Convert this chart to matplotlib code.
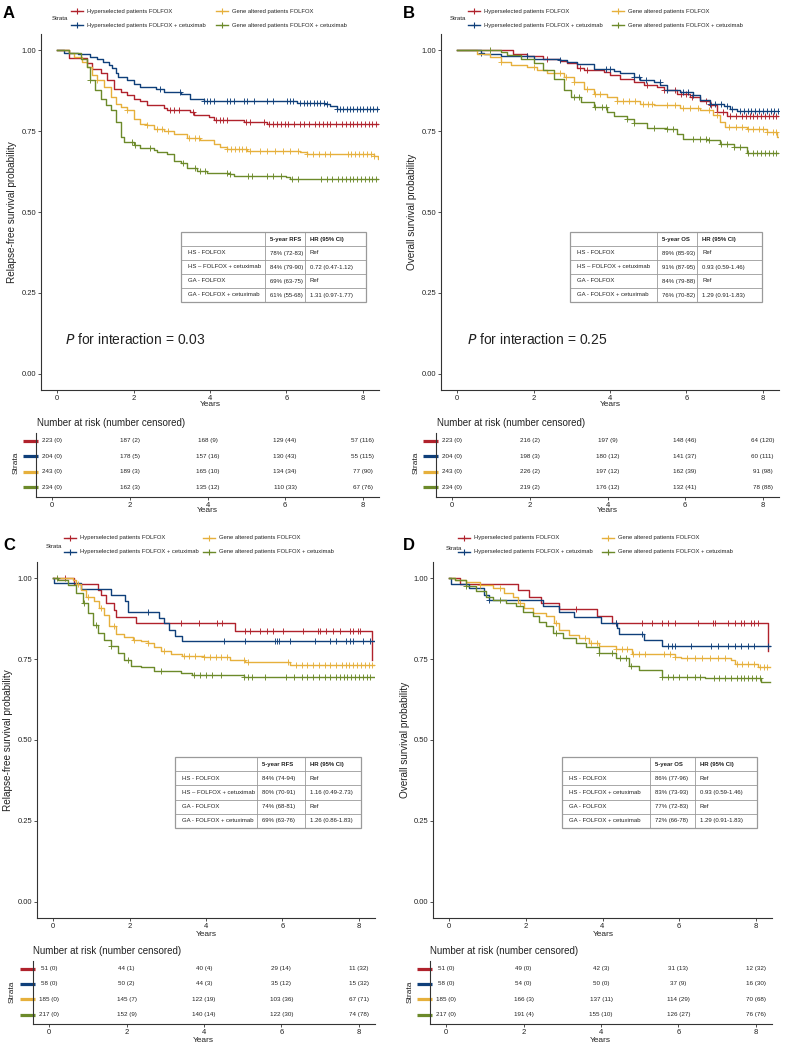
import numpy as np
import matplotlib
matplotlib.use("Agg")
import matplotlib.pyplot as plt
from matplotlib.lines import Line2D
from matplotlib.patches import Rectangle

# ---------------- DATA ----------------
strata_labels = ["Hyperselected patients FOLFOX", "Hyperselected patients FOLFOX + cetuximab",
                 "Gene altered patients FOLFOX", "Gene altered patients FOLFOX + cetuximab"]
colors = ["#B0222C", "#0F3F7A", "#E6B03C", "#6C8A2A"]
year_ticks = [0, 2, 4, 6, 8]
surv_ticks = [0.0, 0.25, 0.5, 0.75, 1.0]
surv_tick_labels = ["0.00", "0.25", "0.50", "0.75", "1.00"]

# Panel A (RFS, full population)
a_red_t = [0, 0.31, 0.79, 0.92, 1.14, 1.31, 1.48, 1.66, 1.83, 2.0, 2.18, 2.35, 2.79, 2.88, 3.49, 3.57, 3.97, 4.10, 4.30, 4.90, 5.50, 8.42]
a_red_s = [1.0, 0.977, 0.959, 0.943, 0.928, 0.907, 0.881, 0.871, 0.861, 0.850, 0.843, 0.830, 0.822, 0.814, 0.809, 0.800, 0.794, 0.785, 0.783, 0.778, 0.772, 0.772]
a_red_c = [2.95, 3.05, 3.20, 3.55, 4.15, 4.25, 4.35, 4.45, 4.95, 5.05, 5.40, 5.55, 5.65, 5.75, 5.85, 5.95, 6.05, 6.20, 6.35, 6.45, 6.60, 6.75, 6.85, 6.95, 7.05, 7.15, 7.30, 7.45, 7.55, 7.65, 7.75, 7.85, 7.95, 8.05, 8.15, 8.25, 8.35]
a_blu_t = [0, 0.18, 0.55, 0.85, 1.05, 1.20, 1.35, 1.45, 1.53, 1.60, 1.83, 2.0, 2.18, 2.60, 2.80, 3.23, 3.49, 3.84, 6.27, 7.01, 7.14, 7.32, 8.42]
a_blu_s = [1.0, 0.992, 0.988, 0.980, 0.972, 0.965, 0.955, 0.945, 0.930, 0.917, 0.907, 0.897, 0.886, 0.881, 0.871, 0.866, 0.850, 0.843, 0.837, 0.833, 0.827, 0.817, 0.817]
a_blu_c = [2.70, 3.22, 3.84, 3.92, 4.01, 4.10, 4.44, 4.53, 4.62, 4.88, 4.96, 5.14, 5.49, 5.66, 6.01, 6.10, 6.18, 6.36, 6.45, 6.53, 6.62, 6.71, 6.79, 6.88, 6.97, 7.05, 7.32, 7.40, 7.49, 7.58, 7.66, 7.75, 7.84, 7.92, 8.01, 8.10, 8.18, 8.27, 8.36]
a_yel_t = [0, 0.31, 0.44, 0.66, 0.79, 0.92, 1.05, 1.22, 1.40, 1.53, 1.66, 1.83, 2.0, 2.18, 2.35, 2.53, 2.79, 3.05, 3.40, 3.75, 4.10, 4.27, 4.44, 4.96, 6.36, 6.53, 8.30, 8.40, 8.42]
a_yel_s = [1.0, 0.990, 0.979, 0.964, 0.948, 0.923, 0.907, 0.886, 0.856, 0.835, 0.825, 0.814, 0.788, 0.773, 0.768, 0.757, 0.750, 0.742, 0.730, 0.721, 0.711, 0.700, 0.695, 0.688, 0.685, 0.678, 0.672, 0.665, 0.665]
a_yel_c = [1.05, 1.83, 2.35, 2.62, 2.75, 2.90, 3.45, 3.60, 3.70, 4.45, 4.55, 4.65, 4.75, 4.85, 4.95, 5.05, 5.30, 5.50, 5.70, 5.90, 6.10, 6.30, 6.55, 6.70, 6.85, 7.00, 7.15, 7.60, 7.70, 7.80, 7.90, 8.00, 8.10, 8.20, 8.30]
a_grn_t = [0, 0.31, 0.62, 0.79, 0.87, 1.0, 1.14, 1.27, 1.40, 1.53, 1.66, 1.75, 2.0, 2.18, 2.53, 2.62, 2.88, 3.05, 3.23, 3.40, 3.66, 3.93, 4.53, 4.62, 6.0, 6.10, 8.42]
a_grn_s = [1.0, 0.990, 0.974, 0.948, 0.907, 0.876, 0.850, 0.830, 0.814, 0.778, 0.732, 0.716, 0.706, 0.699, 0.692, 0.685, 0.678, 0.659, 0.651, 0.637, 0.628, 0.620, 0.616, 0.610, 0.608, 0.603, 0.603]
a_grn_c = [0.87, 1.95, 2.05, 2.43, 3.30, 3.62, 3.75, 3.88, 4.44, 4.53, 5.00, 5.10, 5.50, 5.65, 5.85, 6.15, 6.30, 6.90, 7.05, 7.20, 7.35, 7.45, 7.55, 7.65, 7.75, 7.85, 7.95, 8.05, 8.15, 8.25, 8.35]

# Panel B (OS, full population)
b_red_t = [0, 1.47, 1.83, 2.26, 2.70, 2.88, 3.14, 3.31, 3.84, 4.01, 4.27, 4.62, 4.88, 5.22, 5.40, 5.75, 6.10, 6.36, 6.62, 6.79, 7.05, 8.42]
b_red_s = [1.0, 0.988, 0.981, 0.974, 0.967, 0.959, 0.946, 0.938, 0.933, 0.923, 0.912, 0.902, 0.892, 0.886, 0.876, 0.866, 0.856, 0.843, 0.830, 0.809, 0.798, 0.798]
b_red_c = [1.83, 2.35, 3.22, 3.40, 4.96, 5.40, 5.70, 5.85, 6.00, 6.15, 6.50, 6.65, 6.80, 6.95, 7.15, 7.30, 7.45, 7.55, 7.65, 7.75, 7.85, 7.95, 8.05, 8.15, 8.25, 8.35]
b_blu_t = [0, 0.62, 0.70, 1.14, 2.0, 2.70, 2.88, 3.14, 3.57, 4.10, 4.27, 4.62, 4.79, 5.14, 5.31, 5.48, 5.83, 6.18, 6.36, 6.62, 6.97, 7.14, 7.32, 8.42]
b_blu_s = [1.0, 0.992, 0.988, 0.981, 0.974, 0.971, 0.964, 0.957, 0.943, 0.936, 0.928, 0.917, 0.907, 0.902, 0.892, 0.878, 0.871, 0.861, 0.845, 0.835, 0.827, 0.819, 0.811, 0.811]
b_blu_c = [0.62, 1.83, 2.70, 3.90, 4.00, 4.62, 4.75, 4.95, 5.30, 5.48, 5.90, 6.05, 6.18, 6.62, 6.75, 6.90, 7.05, 7.20, 7.40, 7.50, 7.60, 7.70, 7.80, 7.90, 8.00, 8.10, 8.20, 8.30, 8.40]
b_yel_t = [0, 0.53, 0.87, 1.14, 1.40, 1.83, 2.09, 2.35, 2.79, 3.05, 3.31, 3.57, 3.93, 4.18, 4.79, 5.14, 5.83, 6.36, 6.70, 6.88, 7.01, 7.58, 8.10, 8.36, 8.42]
b_yel_s = [1.0, 0.988, 0.979, 0.964, 0.954, 0.948, 0.938, 0.930, 0.917, 0.902, 0.881, 0.866, 0.856, 0.843, 0.835, 0.830, 0.822, 0.814, 0.800, 0.778, 0.763, 0.757, 0.747, 0.732, 0.732]
b_yel_c = [1.14, 2.00, 2.70, 2.85, 3.05, 3.40, 3.60, 3.75, 4.18, 4.35, 4.50, 4.65, 4.85, 5.00, 5.10, 5.50, 5.70, 5.90, 6.10, 6.30, 6.60, 6.80, 7.10, 7.30, 7.45, 7.60, 7.75, 7.90, 8.00, 8.10, 8.25, 8.35]
b_grn_t = [0, 1.14, 1.31, 1.66, 2.0, 2.26, 2.53, 2.79, 2.97, 3.23, 3.57, 3.93, 4.10, 4.44, 4.62, 4.96, 5.48, 5.75, 5.92, 6.53, 6.88, 7.23, 7.58, 8.42]
b_grn_s = [1.0, 0.995, 0.985, 0.974, 0.959, 0.938, 0.912, 0.876, 0.856, 0.840, 0.825, 0.809, 0.796, 0.788, 0.775, 0.760, 0.755, 0.742, 0.727, 0.721, 0.709, 0.701, 0.682, 0.682]
b_grn_c = [0.87, 3.05, 3.20, 3.60, 3.80, 3.90, 4.44, 4.62, 5.14, 5.50, 5.65, 6.18, 6.35, 6.50, 6.60, 6.90, 7.05, 7.25, 7.40, 7.60, 7.75, 7.85, 7.95, 8.05, 8.15, 8.25, 8.35]

# Panel C (RFS, subgroup)
c_red_t = [0, 0.56, 1.17, 1.26, 1.39, 1.60, 1.65, 2.17, 4.77, 8.34]
c_red_s = [1.0, 0.983, 0.964, 0.949, 0.923, 0.902, 0.880, 0.861, 0.838, 0.746]
c_red_c = [0.30, 3.34, 3.81, 4.29, 4.42, 5.03, 5.14, 5.42, 5.59, 5.76, 6.02, 6.54, 6.93, 6.98, 7.15, 7.32, 7.50, 7.76, 7.84, 7.97, 8.02]
c_blu_t = [0, 0.03, 0.74, 1.52, 1.88, 1.95, 2.77, 2.90, 3.03, 3.20, 3.38, 8.41]
c_blu_s = [1.0, 0.985, 0.966, 0.949, 0.931, 0.895, 0.877, 0.861, 0.841, 0.820, 0.805, 0.805]
c_blu_c = [2.47, 4.48, 5.03, 5.80, 5.85, 5.90, 6.20, 6.85, 7.24, 7.41, 7.67, 7.76, 7.84, 8.10, 8.28]
c_yel_t = [0, 0.52, 0.61, 0.74, 0.87, 1.08, 1.21, 1.34, 1.47, 1.65, 1.86, 2.08, 2.30, 2.47, 2.64, 2.82, 3.08, 3.38, 3.94, 4.64, 5.03, 6.20, 8.41]
c_yel_s = [1.0, 0.995, 0.983, 0.964, 0.943, 0.928, 0.907, 0.887, 0.851, 0.828, 0.818, 0.810, 0.805, 0.800, 0.787, 0.774, 0.766, 0.760, 0.755, 0.748, 0.741, 0.733, 0.733]
c_yel_c = [0.65, 0.91, 1.26, 1.60, 2.12, 2.47, 2.90, 3.42, 3.55, 3.70, 3.96, 4.10, 4.25, 4.40, 4.55, 5.00, 5.10, 6.15, 6.35, 6.50, 6.65, 6.80, 6.95, 7.10, 7.25, 7.40, 7.55, 7.65, 7.75, 7.85, 7.95, 8.05, 8.15, 8.25, 8.35]
c_grn_t = [0, 0.13, 0.39, 0.61, 0.78, 0.91, 1.04, 1.17, 1.34, 1.52, 1.69, 1.86, 2.04, 2.30, 2.64, 3.34, 3.64, 4.99, 8.41]
c_grn_s = [1.0, 0.993, 0.979, 0.954, 0.923, 0.892, 0.856, 0.830, 0.810, 0.789, 0.768, 0.748, 0.729, 0.725, 0.712, 0.707, 0.702, 0.694, 0.694]
c_grn_c = [0.09, 0.82, 1.13, 1.52, 1.95, 2.82, 3.68, 3.85, 4.00, 4.15, 4.38, 5.00, 5.10, 5.20, 5.55, 6.10, 6.30, 6.50, 6.65, 6.80, 6.95, 7.10, 7.25, 7.40, 7.50, 7.60, 7.70, 7.80, 7.90, 8.00, 8.10, 8.20, 8.30]

# Panel D (OS, subgroup)
d_red_t = [0, 0.28, 1.79, 2.09, 2.39, 2.87, 3.86, 4.25, 8.31]
d_red_s = [1.0, 0.981, 0.962, 0.943, 0.923, 0.904, 0.882, 0.861, 0.774]
d_red_c = [3.30, 4.34, 5.03, 5.29, 5.54, 5.72, 5.89, 6.49, 6.88, 6.93, 7.27, 7.45, 7.62, 7.70, 7.88, 7.96, 8.05]
d_blu_t = [0, 0.05, 0.53, 0.92, 1.05, 2.44, 2.87, 3.26, 3.96, 4.38, 4.43, 5.07, 5.55, 8.37]
d_blu_s = [1.0, 0.983, 0.969, 0.949, 0.933, 0.913, 0.897, 0.880, 0.861, 0.846, 0.828, 0.810, 0.791, 0.791]
d_blu_c = [1.05, 4.34, 5.03, 5.72, 5.80, 5.89, 6.32, 6.84, 7.01, 7.27, 7.45, 7.62, 7.79, 7.96, 8.31]
d_yel_t = [0, 0.15, 0.45, 0.81, 1.14, 1.44, 1.66, 1.79, 1.96, 2.18, 2.52, 2.74, 2.87, 3.13, 3.39, 3.65, 3.91, 4.34, 4.77, 5.89, 6.06, 7.36, 7.45, 8.05, 8.37]
d_yel_s = [1.0, 0.995, 0.987, 0.979, 0.969, 0.954, 0.943, 0.923, 0.907, 0.892, 0.882, 0.861, 0.841, 0.825, 0.815, 0.801, 0.791, 0.781, 0.766, 0.758, 0.753, 0.748, 0.736, 0.727, 0.727]
d_yel_c = [0.81, 1.32, 1.84, 2.80, 3.55, 3.70, 3.85, 4.34, 4.50, 4.65, 4.80, 4.95, 5.10, 5.60, 5.75, 5.90, 6.20, 6.40, 6.60, 6.80, 7.00, 7.20, 7.50, 7.65, 7.80, 7.95, 8.10, 8.20, 8.30]
d_grn_t = [0, 0.15, 0.45, 0.71, 0.97, 1.14, 1.49, 1.75, 1.92, 2.18, 2.35, 2.52, 2.70, 2.96, 3.30, 3.56, 3.91, 4.34, 4.68, 4.94, 5.55, 6.67, 8.14, 8.37]
d_grn_s = [1.0, 0.993, 0.976, 0.959, 0.943, 0.933, 0.923, 0.915, 0.897, 0.882, 0.866, 0.851, 0.830, 0.815, 0.801, 0.787, 0.769, 0.753, 0.729, 0.717, 0.696, 0.691, 0.678, 0.678]
d_grn_c = [0.45, 1.32, 2.80, 3.91, 4.25, 4.45, 4.60, 4.75, 5.55, 5.70, 5.85, 6.00, 6.20, 6.40, 6.55, 6.90, 7.05, 7.20, 7.35, 7.50, 7.60, 7.70, 7.80, 7.90, 8.00, 8.10]

# Number at risk tables (rows: red, blue, yellow, green)
risk_times = [0, 2, 4, 6, 8]
risk_a = [["223 (0)", "187 (2)", "168 (9)", "129 (44)", "57 (116)"],
          ["204 (0)", "178 (5)", "157 (16)", "130 (43)", "55 (115)"],
          ["243 (0)", "189 (3)", "165 (10)", "134 (34)", "77 (90)"],
          ["234 (0)", "162 (3)", "135 (12)", "110 (33)", "67 (76)"]]
risk_b = [["223 (0)", "216 (2)", "197 (9)", "148 (46)", "64 (120)"],
          ["204 (0)", "198 (3)", "180 (12)", "141 (37)", "60 (111)"],
          ["243 (0)", "226 (2)", "197 (12)", "162 (39)", "91 (98)"],
          ["234 (0)", "219 (2)", "176 (12)", "132 (41)", "78 (88)"]]
risk_c = [["51 (0)", "44 (1)", "40 (4)", "29 (14)", "11 (32)"],
          ["58 (0)", "50 (2)", "44 (3)", "35 (12)", "15 (32)"],
          ["185 (0)", "145 (7)", "122 (19)", "103 (36)", "67 (71)"],
          ["217 (0)", "152 (9)", "140 (14)", "122 (30)", "74 (78)"]]
risk_d = [["51 (0)", "49 (0)", "42 (3)", "31 (13)", "12 (32)"],
          ["58 (0)", "54 (0)", "50 (0)", "37 (9)", "16 (30)"],
          ["185 (0)", "166 (3)", "137 (11)", "114 (29)", "70 (68)"],
          ["217 (0)", "191 (4)", "155 (10)", "126 (27)", "76 (76)"]]

# Summary tables
tab_groups_a = ["HS - FOLFOX", "HS \u2013 FOLFOX + cetuximab", "GA - FOLFOX", "GA - FOLFOX + cetuximab"]
tab_groups_d = ["HS - FOLFOX", "HS - FOLFOX + cetuximab", "GA - FOLFOX", "GA - FOLFOX + cetuximab"]
tab_a_rate = ["78% (72-83)", "84% (79-90)", "69% (63-75)", "61% (55-68)"]
tab_a_hr = ["Ref", "0.72 (0.47-1.12)", "Ref", "1.31 (0.97-1.77)"]
tab_b_rate = ["89% (85-93)", "91% (87-95)", "84% (79-88)", "76% (70-82)"]
tab_b_hr = ["Ref", "0.93 (0.59-1.46)", "Ref", "1.29 (0.91-1.83)"]
tab_c_rate = ["84% (74-94)", "80% (70-91)", "74% (68-81)", "69% (63-76)"]
tab_c_hr = ["Ref", "1.16 (0.49-2.73)", "Ref", "1.26 (0.86-1.83)"]
tab_d_rate = ["86% (77-96)", "83% (73-93)", "77% (72-83)", "72% (66-78)"]
tab_d_hr = ["Ref", "0.93 (0.59-1.46)", "Ref", "1.29 (0.91-1.83)"]

p_a, p_b = "0.03", "0.25"

# ---------------- DRAWING ----------------
W, H = 791, 1051
plt.rcParams['font.family'] = ['Liberation Sans', 'DejaVu Sans']
fig = plt.figure(figsize=(W / 100, H / 100), dpi=100)
TXT = "#222222"
AXC = "#333333"


def add_ax(L, R, T, B):
    return fig.add_axes([L / W, 1 - B / H, (R - L) / W, (B - T) / H])


def ftext(x, y, s, **kw):
    kw.setdefault("color", TXT)
    fig.text(x / W, 1 - y / H, s, **kw)


def step_at(t, s, c):
    idx = np.searchsorted(np.asarray(t), np.asarray(c), side="right") - 1
    return np.asarray(s)[idx]


def style_axes(ax):
    for sp in ["top", "right"]:
        ax.spines[sp].set_visible(False)
    for sp in ["left", "bottom"]:
        ax.spines[sp].set_color(AXC)
        ax.spines[sp].set_linewidth(0.8)
    ax.tick_params(length=2, width=0.6, color=AXC, labelsize=5.5, pad=1.5, labelcolor=TXT)
    ax.set_xlim(-0.42, 8.42)
    ax.set_xticks(year_ticks)


def km_panel(L, R, T, B, curves):
    ax = add_ax(L, R, T, B)
    style_axes(ax)
    for (t, s, c), col in zip(curves, colors):
        ax.step(t, s, where="post", color=col, lw=1.0)
        ax.plot(c, step_at(t, s, c), ls="none", marker="+", ms=3.8, mew=0.65, color=col)
    ax.set_ylim(-0.05, 1.05)
    ax.set_yticks(surv_ticks)
    ax.set_yticklabels(surv_tick_labels)
    return ax


def risk_panel(L, R, T, B, rows):
    ax = add_ax(L, R, T, B)
    style_axes(ax)
    ax.set_ylim(4.62, 0.5)
    for i, row in enumerate(rows):
        for t, txt in zip(risk_times, row):
            ax.text(t, i + 1, txt, ha="center", va="center", fontsize=4.5, color=TXT)
    ax.set_yticks([1, 2, 3, 4])
    ax.set_yticklabels([])
    ax.tick_params(axis="y", length=0)
    tr = ax.get_yaxis_transform()
    w = R - L
    for i, col in enumerate(colors):
        ax.plot([-13.0 / w, 2.0 / w], [i + 1, i + 1], transform=tr, color=col, lw=2.3,
                solid_capstyle="butt", clip_on=False)
    return ax


def summary_table(L, R, T, B, d1, d2, rate_head, groups, rates, hrs):
    ax = add_ax(L - 2, R + 2, T - 2, B + 2)
    ax.set_xlim(L - 2, R + 2)
    ax.set_ylim(B + 2, T - 2)
    ax.axis("off")
    gc = "#9a9a9a"
    ax.add_patch(Rectangle((L, T), R - L, B - T, fill=False, ec=gc, lw=0.9, clip_on=False))
    rh = (B - T) / 5.0
    for k in range(1, 5):
        ax.plot([L, R], [T + k * rh, T + k * rh], color=gc, lw=0.6)
    for xd in (d1, d2):
        ax.plot([xd, xd], [T, B], color=gc, lw=0.6)
    fs = 4.3
    ax.text(d1 + 5, T + rh / 2, rate_head, fontsize=fs, fontweight="bold", va="center", color=TXT)
    ax.text(d2 + 5, T + rh / 2, "HR (95% CI)", fontsize=fs, fontweight="bold", va="center", color=TXT)
    for k in range(4):
        y = T + (k + 1.5) * rh
        ax.text(L + 7, y, groups[k], fontsize=fs, va="center", color=TXT)
        ax.text(d1 + 5, y, rates[k], fontsize=fs, va="center", color=TXT)
        ax.text(d2 + 5, y, hrs[k], fontsize=fs, va="center", color=TXT)


def legend_block(letter, lx, ly, sx, sy, r1, r2, c1, c2):
    ftext(lx, ly, letter, fontsize=12, fontweight="bold", va="center", ha="left", color="black")
    ftext(sx, sy, "Strata", fontsize=4.4, va="center")
    pos = [(c1, r1), (c1, r2), (c2, r1), (c2, r2)]
    for (cx, cy), lab, col in zip(pos, strata_labels, colors):
        fig.add_artist(Line2D([(cx - 6) / W, (cx + 6) / W], [1 - cy / H, 1 - cy / H], color=col, lw=1.0))
        fig.add_artist(Line2D([cx / W], [1 - cy / H], color=col, marker="+", ms=4, mew=0.8, ls="none"))
        ftext(cx + 10, cy, lab, fontsize=4.2, va="center")


def labels_block(ylab, ylx, yly, xtl_y, mid_x, risk_title_x, risk_title_y, strata_x, strata_y, risk_years_y):
    ftext(ylx, yly, ylab, fontsize=7.2, rotation=90, ha="center", va="center")
    ftext(mid_x, xtl_y, "Years", fontsize=6, ha="center", va="center")
    ftext(risk_title_x, risk_title_y, "Number at risk (number censored)", fontsize=7, ha="left", va="center")
    ftext(strata_x, strata_y, "Strata", fontsize=6, rotation=90, ha="center", va="center")
    ftext(mid_x - 3, risk_years_y, "Years", fontsize=6, ha="center", va="center")


# ---- Panel A ----
km_panel(41, 379, 34, 390, [(a_red_t, a_red_s, a_red_c), (a_blu_t, a_blu_s, a_blu_c),
                             (a_yel_t, a_yel_s, a_yel_c), (a_grn_t, a_grn_s, a_grn_c)])
risk_panel(36, 379, 433, 497, risk_a)
summary_table(181, 366, 232, 302, 265, 305, "5-year RFS", tab_groups_a, tab_a_rate, tab_a_hr)
legend_block("A", 3, 14, 52, 19, 11, 25, 77, 222)
labels_block("Relapse-free survival probability", 12, 212, 405, 210, 37, 423, 16, 463, 511)
ftext(65, 340, "$\\it{P}$ for interaction = " + p_a, fontsize=10, va="center")

# ---- Panel B ----
km_panel(441, 779, 34, 390, [(b_red_t, b_red_s, b_red_c), (b_blu_t, b_blu_s, b_blu_c),
                              (b_yel_t, b_yel_s, b_yel_c), (b_grn_t, b_grn_s, b_grn_c)])
risk_panel(436, 779, 433, 497, risk_b)
summary_table(570, 762, 232, 302, 657, 697, "5-year OS", tab_groups_a, tab_b_rate, tab_b_hr)
legend_block("B", 403, 14, 450, 19, 11, 25, 474, 618)
labels_block("Overall survival probability", 412, 212, 405, 610, 437, 423, 416, 463, 511)
ftext(467, 340, "$\\it{P}$ for interaction = " + p_b, fontsize=10, va="center")

# ---- Panel C ----
km_panel(37, 375, 562, 918, [(c_red_t, c_red_s, c_red_c), (c_blu_t, c_blu_s, c_blu_c),
                              (c_yel_t, c_yel_s, c_yel_c), (c_grn_t, c_grn_s, c_grn_c)])
risk_panel(33, 375, 961, 1024, risk_c)
summary_table(175, 361, 757, 828, 257, 305, "5-year RFS", tab_groups_a, tab_c_rate, tab_c_hr)
legend_block("C", 3, 546, 46, 546, 538, 552, 70, 209)
labels_block("Relapse-free survival probability", 8, 740, 934, 206, 33, 951, 12, 992, 1040)

# ---- Panel D ----
km_panel(433, 772, 562, 918, [(d_red_t, d_red_s, d_red_c), (d_blu_t, d_blu_s, d_blu_c),
                               (d_yel_t, d_yel_s, d_yel_c), (d_grn_t, d_grn_s, d_grn_c)])
risk_panel(430, 772, 961, 1024, risk_d)
summary_table(562, 757, 757, 828, 650, 695, "5-year OS", tab_groups_d, tab_d_rate, tab_d_hr)
legend_block("D", 403, 546, 446, 548, 538, 552, 464, 608)
labels_block("Overall survival probability", 405, 740, 934, 603, 430, 951, 410, 992, 1040)

fig.savefig("out.png", dpi=100, facecolor="white")
